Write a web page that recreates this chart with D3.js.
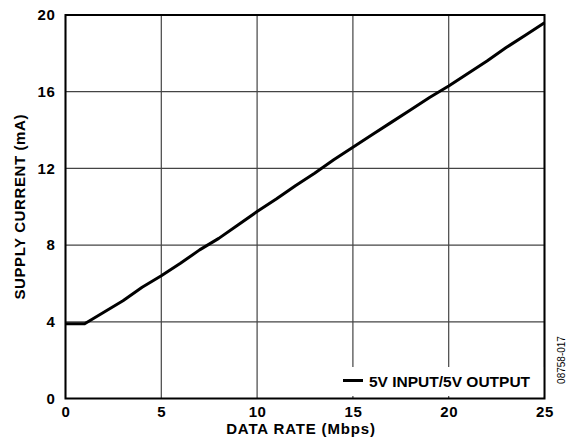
<!DOCTYPE html>
<html><head><meta charset="utf-8">
<script src="https://cdn.jsdelivr.net/npm/d3@7"></script>
<style>body{margin:0;background:#fff}svg{display:block}text{font-family:"Liberation Sans",Arial,sans-serif}</style>
</head><body>
<svg id="c" width="568" height="440"></svg>
<script>
const dataRate = [0,1,2,3,4,5,6,7,8,9,10,11,12,13,14,15,16,17,18,19,20,21,22,23,24,25];
const supplyCurrent = [3.9,3.9,4.5,5.1,5.8,6.4,7.05,7.75,8.35,9.05,9.75,10.4,11.1,11.75,12.45,13.1,13.75,14.4,15.05,15.7,16.3,16.95,17.6,18.3,18.95,19.6];
const xTicks = [0,5,10,15,20,25];
const yTicks = [0,4,8,12,16,20];
const seriesName = "5V INPUT/5V OUTPUT";
const xTitle = "DATA RATE (Mbps)";
const yTitle = "SUPPLY CURRENT (mA)";
const figId = "08758-017";

const svg = d3.select("#c");
const L=65.5,R=544.5,T=15,B=398.5;
const x = d3.scaleLinear().domain([0,25]).range([L,R]);
const y = d3.scaleLinear().domain([0,20]).range([B,T]);

// gridlines
const g = svg.append("g");
g.selectAll("line.v").data(xTicks).join("line")
 .attr("x1",d=>x(d)).attr("x2",d=>x(d)).attr("y1",T).attr("y2",B)
 .attr("stroke","#444").attr("stroke-width",1.2);
g.selectAll("line.h").data(yTicks).join("line")
 .attr("y1",d=>y(d)).attr("y2",d=>y(d)).attr("x1",L).attr("x2",R)
 .attr("stroke","#444").attr("stroke-width",1.2);

// data line
const pts = dataRate.map((d,i)=>[d,supplyCurrent[i]]);
svg.append("path").datum(pts)
 .attr("d",d3.line().x(d=>x(d[0])).y(d=>y(d[1])))
 .attr("fill","none").attr("stroke","#000").attr("stroke-width",3).attr("stroke-linejoin","round");

// legend box
svg.append("rect").attr("x",337).attr("y",367).attr("width",R-337).attr("height",29).attr("fill","#fff");
svg.append("line").attr("x1",343).attr("x2",363).attr("y1",380.5).attr("y2",380.5).attr("stroke","#000").attr("stroke-width",3);
svg.append("text").attr("x",369).attr("y",386.5).attr("font-size",15.5).attr("font-weight","bold").text(seriesName);

// frame
svg.append("rect").attr("x",L).attr("y",T).attr("width",R-L).attr("height",B-T)
 .attr("fill","none").attr("stroke","#000").attr("stroke-width",2);

// axes labels
const xa = svg.append("g").attr("transform",`translate(0,${B})`)
 .call(d3.axisBottom(x).tickValues(xTicks).tickSize(0).tickPadding(8).tickFormat(d3.format("d")));
xa.select(".domain").remove();
xa.selectAll("text").attr("font-size",15).attr("font-weight","bold").attr("fill","#000").attr("letter-spacing",0.6).style("font-family","Liberation Sans, Arial, sans-serif");
const ya = svg.append("g").attr("transform",`translate(${L},0)`)
 .call(d3.axisLeft(y).tickValues(yTicks).tickSize(0).tickPadding(10).tickFormat(d3.format("d")));
ya.select(".domain").remove();
ya.selectAll("text").attr("font-size",15).attr("font-weight","bold").attr("fill","#000").attr("letter-spacing",0.6).style("font-family","Liberation Sans, Arial, sans-serif");

svg.append("text").attr("x",301).attr("y",433.5).attr("text-anchor","middle")
 .attr("font-size",15).attr("font-weight","bold").attr("letter-spacing",0.85).text(xTitle);
svg.append("text").attr("transform",`translate(25,${(T+B)/2}) rotate(-90)`).attr("text-anchor","middle")
 .attr("font-size",15).attr("font-weight","bold").attr("letter-spacing",0.6).text(yTitle);
svg.append("text").attr("transform",`translate(565,360) rotate(-90)`).attr("text-anchor","middle")
 .attr("font-size",10).text(figId);
</script>
</body></html>
